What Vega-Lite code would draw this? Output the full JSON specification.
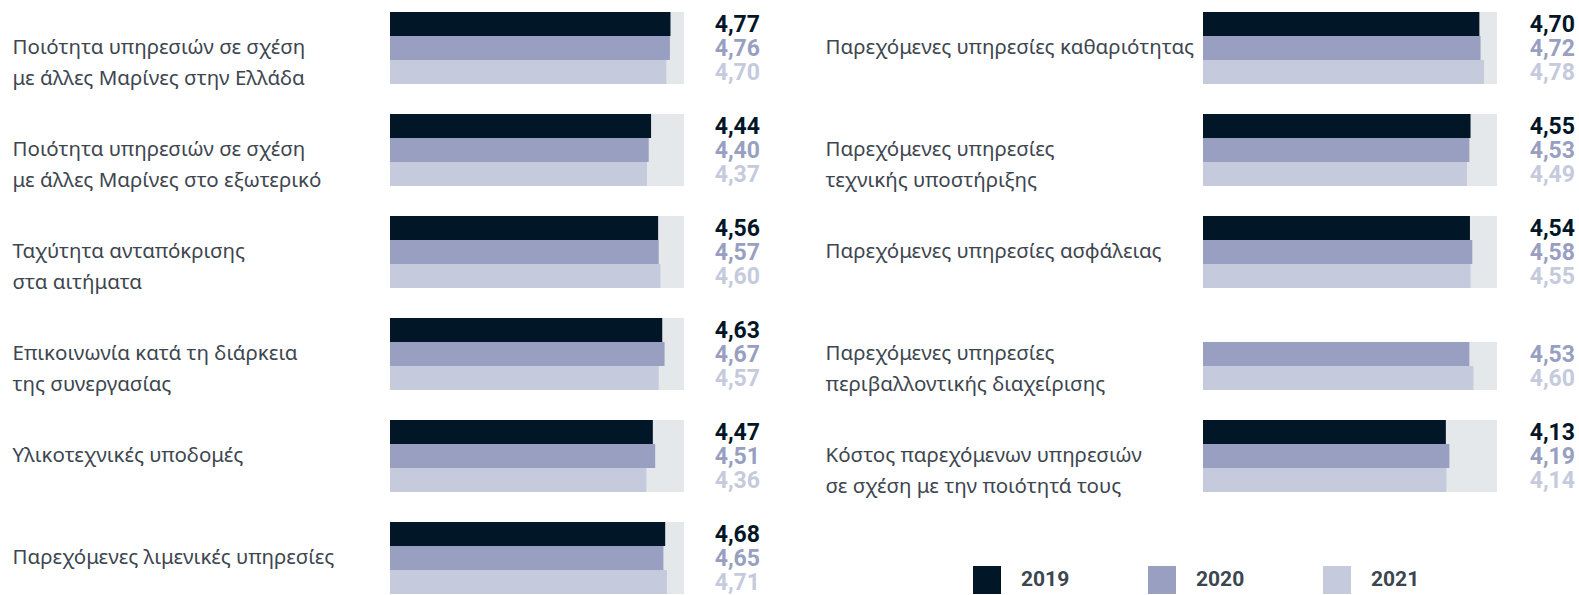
{
  "$schema": "https://vega.github.io/schema/vega-lite/v6.json",
  "padding": {"left": 12, "top": 12, "right": 0, "bottom": 0},
  "autosize": {"type": "pad"},
  "background": "white",
  "bounds": "flush",
  "spacing": 519,
  "config": {
    "locale": {"number": {"decimal": ",", "thousands": ".", "grouping": [3], "currency": ["", " €"]}},
    "view": {"stroke": null},
    "font": "Noto Sans",
    "axisY": {
      "title": null, "domain": false, "ticks": false, "grid": false,
      "labelAlign": "left", "labelPadding": 378, "labelFontSize": 20.5,
      "labelColor": "#3d464f", "labelLineHeight": 31, "labelLimit": 420,
      "labelBaseline": "middle", "labelFont": "Noto Sans",
      "labelExpr": "split(datum.label, '|')"
    },
    "legend": {
      "orient": "none", "direction": "horizontal", "gridAlign": "all",
      "title": null, "symbolType": "square", "symbolSize": 784, "symbolStrokeWidth": 0,
      "symbolOpacity": 1, "labelOffset": 20, "labelFontSize": 21, "labelFont": "Roboto",
      "labelFontWeight": "bold", "labelColor": "#3c4650", "columnPadding": 78
    }
  },
  "datasets": {
    "left": [
      {"item": "Ποιότητα υπηρεσιών σε σχέση|με άλλες Μαρίνες στην Ελλάδα", "year": "2019", "value": 4.77},
      {"item": "Ποιότητα υπηρεσιών σε σχέση|με άλλες Μαρίνες στην Ελλάδα", "year": "2020", "value": 4.76},
      {"item": "Ποιότητα υπηρεσιών σε σχέση|με άλλες Μαρίνες στην Ελλάδα", "year": "2021", "value": 4.70},
      {"item": "Ποιότητα υπηρεσιών σε σχέση|με άλλες Μαρίνες στο εξωτερικό", "year": "2019", "value": 4.44},
      {"item": "Ποιότητα υπηρεσιών σε σχέση|με άλλες Μαρίνες στο εξωτερικό", "year": "2020", "value": 4.40},
      {"item": "Ποιότητα υπηρεσιών σε σχέση|με άλλες Μαρίνες στο εξωτερικό", "year": "2021", "value": 4.37},
      {"item": "Ταχύτητα ανταπόκρισης|στα αιτήματα", "year": "2019", "value": 4.56},
      {"item": "Ταχύτητα ανταπόκρισης|στα αιτήματα", "year": "2020", "value": 4.57},
      {"item": "Ταχύτητα ανταπόκρισης|στα αιτήματα", "year": "2021", "value": 4.60},
      {"item": "Επικοινωνία κατά τη διάρκεια|της συνεργασίας", "year": "2019", "value": 4.63},
      {"item": "Επικοινωνία κατά τη διάρκεια|της συνεργασίας", "year": "2020", "value": 4.67},
      {"item": "Επικοινωνία κατά τη διάρκεια|της συνεργασίας", "year": "2021", "value": 4.57},
      {"item": "Υλικοτεχνικές υποδομές", "year": "2019", "value": 4.47},
      {"item": "Υλικοτεχνικές υποδομές", "year": "2020", "value": 4.51},
      {"item": "Υλικοτεχνικές υποδομές", "year": "2021", "value": 4.36},
      {"item": "Παρεχόμενες λιμενικές υπηρεσίες", "year": "2019", "value": 4.68},
      {"item": "Παρεχόμενες λιμενικές υπηρεσίες", "year": "2020", "value": 4.65},
      {"item": "Παρεχόμενες λιμενικές υπηρεσίες", "year": "2021", "value": 4.71}
    ],
    "right": [
      {"item": "Παρεχόμενες υπηρεσίες καθαριότητας", "year": "2019", "value": 4.70},
      {"item": "Παρεχόμενες υπηρεσίες καθαριότητας", "year": "2020", "value": 4.72},
      {"item": "Παρεχόμενες υπηρεσίες καθαριότητας", "year": "2021", "value": 4.78},
      {"item": "Παρεχόμενες υπηρεσίες|τεχνικής υποστήριξης", "year": "2019", "value": 4.55},
      {"item": "Παρεχόμενες υπηρεσίες|τεχνικής υποστήριξης", "year": "2020", "value": 4.53},
      {"item": "Παρεχόμενες υπηρεσίες|τεχνικής υποστήριξης", "year": "2021", "value": 4.49},
      {"item": "Παρεχόμενες υπηρεσίες ασφάλειας", "year": "2019", "value": 4.54},
      {"item": "Παρεχόμενες υπηρεσίες ασφάλειας", "year": "2020", "value": 4.58},
      {"item": "Παρεχόμενες υπηρεσίες ασφάλειας", "year": "2021", "value": 4.55},
      {"item": "Παρεχόμενες υπηρεσίες|περιβαλλοντικής διαχείρισης", "year": "2020", "value": 4.53},
      {"item": "Παρεχόμενες υπηρεσίες|περιβαλλοντικής διαχείρισης", "year": "2021", "value": 4.60},
      {"item": "Κόστος παρεχόμενων υπηρεσιών|σε σχέση με την ποιότητά τους", "year": "2019", "value": 4.13},
      {"item": "Κόστος παρεχόμενων υπηρεσιών|σε σχέση με την ποιότητά τους", "year": "2020", "value": 4.19},
      {"item": "Κόστος παρεχόμενων υπηρεσιών|σε σχέση με την ποιότητά τους", "year": "2021", "value": 4.14}
    ]
  },
  "resolve": {"scale": {"y": "independent", "yOffset": "independent", "color": "shared"}, "legend": {"color": "independent"}},
  "hconcat": [
    {
      "width": 294, "height": 582,
      "data": {"name": "left"},
      "encoding": {
        "y": {"field": "item", "type": "nominal", "sort": null, "scale": {"paddingInner": 0.294, "paddingOuter": 0}},
        "yOffset": {"field": "year", "type": "nominal", "scale": {"domain": ["2019", "2020", "2021"], "paddingInner": 0, "paddingOuter": 0}}
      },
      "layer": [
        {"mark": {"type": "bar", "color": "#e4e8eb"}, "encoding": {"x": {"datum": 5, "type": "quantitative", "scale": {"domain": [0, 5]}, "axis": null}}},
        {"mark": {"type": "bar"}, "encoding": {
          "x": {"field": "value", "type": "quantitative", "scale": {"domain": [0, 5]}, "axis": null},
          "color": {"field": "year", "type": "nominal", "scale": {"domain": ["2019", "2020", "2021"], "range": ["#011627", "#989fc1", "#c6cadd"]}, "legend": null}
        }},
        {"mark": {"type": "text", "align": "right", "baseline": "middle", "dx": 76, "dy": 1, "font": "Roboto", "fontWeight": "bold", "fontSize": 23}, "encoding": {
          "x": {"datum": 5, "type": "quantitative", "scale": {"domain": [0, 5]}, "axis": null},
          "text": {"field": "value", "type": "quantitative", "format": ".2f"},
          "color": {"field": "year", "type": "nominal", "legend": null}
        }}
      ]
    },
    {
      "width": 294, "height": 480,
      "data": {"name": "right"},
      "encoding": {
        "y": {"field": "item", "type": "nominal", "sort": null, "scale": {"paddingInner": 0.294, "paddingOuter": 0}},
        "yOffset": {"field": "year", "type": "nominal", "scale": {"domain": ["2019", "2020", "2021"], "paddingInner": 0, "paddingOuter": 0}}
      },
      "layer": [
        {"mark": {"type": "bar", "color": "#e4e8eb"}, "encoding": {"x": {"datum": 5, "type": "quantitative", "scale": {"domain": [0, 5]}, "axis": null}}},
        {"mark": {"type": "bar"}, "encoding": {
          "x": {"field": "value", "type": "quantitative", "scale": {"domain": [0, 5]}, "axis": null},
          "color": {"field": "year", "type": "nominal", "legend": {"orient": "none", "legendX": -230, "legendY": 554, "direction": "horizontal"}}
        }},
        {"mark": {"type": "text", "align": "right", "baseline": "middle", "dx": 78, "dy": 1, "font": "Roboto", "fontWeight": "bold", "fontSize": 23}, "encoding": {
          "x": {"datum": 5, "type": "quantitative", "scale": {"domain": [0, 5]}, "axis": null},
          "text": {"field": "value", "type": "quantitative", "format": ".2f"},
          "color": {"field": "year", "type": "nominal", "legend": null}
        }}
      ]
    }
  ]
}
